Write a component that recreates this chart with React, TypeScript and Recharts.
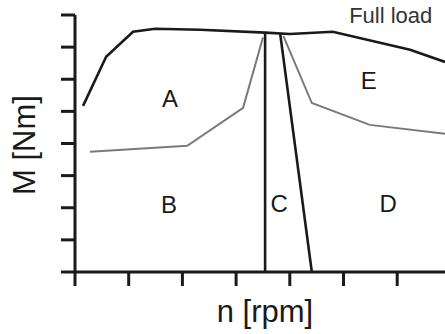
import { LineChart, Line, XAxis, YAxis, ReferenceDot } from "recharts";

const ink = "#1a1a1a";
const gray = "#7a7a7a";
const font = "'Liberation Sans', Arial, sans-serif";

// speed axis in tick units, torque axis in tick units
const xTicks = [0, 1, 2, 3, 4, 5, 6];
const yTicks = [0, 1, 2, 3, 4, 5, 6, 7, 8];

// full load torque curve
const fullLoad = [
  { n: 0.15, m: 5.17 },
  { n: 0.58, m: 6.7 },
  { n: 1.08, m: 7.48 },
  { n: 1.49, m: 7.57 },
  { n: 2.33, m: 7.54 },
  { n: 3.54, m: 7.45 },
  { n: 4.0, m: 7.41 },
  { n: 4.8, m: 7.48 },
  { n: 6.24, m: 6.92 },
  { n: 6.89, m: 6.54 }
];

// part load boundaries (left and right of the split)
const partLeft = [
  { n: 0.28, m: 3.74 },
  { n: 2.09, m: 3.93 },
  { n: 3.13, m: 5.11 },
  { n: 3.5, m: 7.3 }
];
const partRight = [
  { n: 3.88, m: 7.35 },
  { n: 4.41, m: 5.26 },
  { n: 5.49, m: 4.58 },
  { n: 6.89, m: 4.3 }
];

// region C boundaries
const splitLeft = [
  { n: 3.54, m: 7.45 },
  { n: 3.54, m: 0 }
];
const splitRight = [
  { n: 3.82, m: 7.43 },
  { n: 4.41, m: 0 }
];

const regions = [
  { name: "A", n: 1.77, m: 5.39 },
  { name: "B", n: 1.75, m: 2.09 },
  { name: "C", n: 3.8, m: 2.12 },
  { name: "D", n: 5.83, m: 2.12 },
  { name: "E", n: 5.47, m: 5.95 }
];

function Letter(props: any, text: string, size: number, color: string) {
  return (
    <text
      x={props.cx}
      y={props.cy}
      textAnchor="middle"
      dominantBaseline="central"
      fontFamily={font}
      fontSize={size}
      fill={color}
    >
      {text}
    </text>
  );
}

// tick marks only, no numbers
const noLabel = () => <g />;
const tickLine = { stroke: ink, strokeWidth: 3 };

export default function App() {
  return (
    <div style={{ position: "fixed", left: 0, top: 0, width: 445, height: 334, background: "#fff" }}>
      <LineChart width={445} height={334} margin={{ top: 15, right: 0, bottom: 32, left: 15 }}>
        <XAxis
          type="number"
          dataKey="n"
          domain={[0, 6.89]}
          ticks={xTicks}
          height={30}
          tick={noLabel}
          tickLine={tickLine}
          tickSize={14}
          stroke={ink}
          strokeWidth={3}
          allowDataOverflow
        />
        <YAxis
          type="number"
          dataKey="m"
          domain={[0, 8]}
          ticks={yTicks}
          width={60}
          tick={noLabel}
          tickLine={tickLine}
          tickSize={14}
          stroke={ink}
          strokeWidth={3}
        />
        <Line data={fullLoad} dataKey="m" stroke={ink} strokeWidth={2.6} dot={false} isAnimationActive={false} />
        <Line data={partLeft} dataKey="m" stroke={gray} strokeWidth={2} dot={false} isAnimationActive={false} />
        <Line data={partRight} dataKey="m" stroke={gray} strokeWidth={2} dot={false} isAnimationActive={false} />
        <Line data={splitLeft} dataKey="m" stroke={ink} strokeWidth={2.6} dot={false} isAnimationActive={false} />
        <Line data={splitRight} dataKey="m" stroke={ink} strokeWidth={2.6} dot={false} isAnimationActive={false} />
        {regions.map((r) => (
          <ReferenceDot
            key={r.name}
            x={r.n}
            y={r.m}
            r={0}
            shape={(p: any) => Letter(p, r.name, 24, ink)}
          />
        ))}
        <ReferenceDot
          x={5.88}
          y={8}
          r={0}
          ifOverflow="visible"
          shape={(p: any) => Letter(p, "Full load", 22, "#333")}
        />
      </LineChart>
      <svg width={445} height={334} style={{ position: "absolute", left: 0, top: 0, pointerEvents: "none" }}>
        <text
          transform="translate(35,145) rotate(-90)"
          textAnchor="middle"
          fontFamily={font}
          fontSize={31}
          fill={ink}
        >
          M [Nm]
        </text>
        <text x={265} y={322} textAnchor="middle" fontFamily={font} fontSize={31} fill={ink}>
          n [rpm]
        </text>
      </svg>
    </div>
  );
}
